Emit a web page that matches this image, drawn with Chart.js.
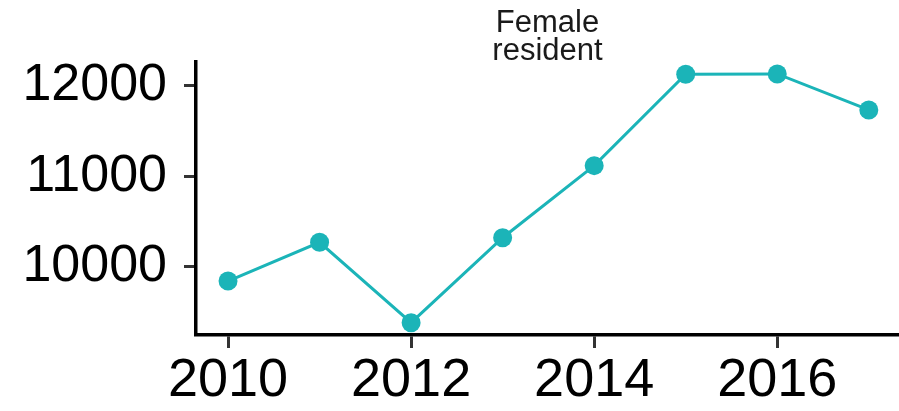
<!DOCTYPE html>
<html>
<head>
<meta charset="utf-8">
<script src="https://cdn.jsdelivr.net/npm/chart.js@4"></script>
<style>
  html, body { margin: 0; padding: 0; background: #fff; }
  #wrap { width: 899px; height: 411px; }
</style>
</head>
<body>
<div id="wrap"><canvas id="chart" width="899" height="411"></canvas></div>
<script>
// data
const years = [2010, 2011, 2012, 2013, 2014, 2015, 2016, 2017];
const femaleResident = [9843, 10271, 9382, 10322, 11119, 12129, 12133, 11735];
const titleLines = ['Female', 'resident'];
const xTicks = [2010, 2012, 2014, 2016];
const yTicks = [10000, 11000, 12000];

const teal = '#1bb4b8';
const fontFamily = "'Liberation Sans', Arial, Helvetica, sans-serif";

// title centred over the plot area (like a facet strip label)
const stripTitle = {
    id: 'stripTitle',
    afterDraw(chart) {
        const ctx = chart.ctx;
        const area = chart.chartArea;
        const cx = (area.left + area.right) / 2;
        ctx.save();
        ctx.fillStyle = '#1a1a1a';
        ctx.font = '31px ' + fontFamily;
        ctx.textAlign = 'center';
        ctx.textBaseline = 'alphabetic';
        titleLines.forEach((line, i) => {
            ctx.fillText(line, cx, 32 + i * 28);
        });
        ctx.restore();
    }
};

const ctx = document.getElementById('chart').getContext('2d');
new Chart(ctx, {
    type: 'line',
    data: {
        datasets: [{
            label: titleLines.join(' '),
            data: years.map((y, i) => ({ x: y, y: femaleResident[i] })),
            borderColor: teal,
            backgroundColor: teal,
            borderWidth: 3,
            pointRadius: 9.5,
            pointHoverRadius: 9.5,
            pointBorderWidth: 0,
            tension: 0,
            clip: false
        }]
    },
    options: {
        responsive: false,
        animation: false,
        layout: {
            autoPadding: false,
            padding: { top: 62, right: 0, left: 0, bottom: 0 }
        },
        plugins: {
            legend: { display: false },
            title: { display: false },
            tooltip: { enabled: false }
        },
        scales: {
            x: {
                type: 'linear',
                min: 2009.65,
                max: 2017.33,
                afterBuildTicks: (scale) => { scale.ticks = xTicks.map(v => ({ value: v })); },
                afterFit: (scale) => {
                    scale.height = 76;
                    scale.paddingLeft = 0;
                    scale.paddingRight = 0;
                },
                border: { display: true, color: '#000', width: 3.5 },
                grid: {
                    drawOnChartArea: false,
                    drawTicks: true,
                    tickLength: 13,
                    tickColor: '#333',
                    tickWidth: 3
                },
                ticks: {
                    color: '#000',
                    padding: 1,
                    maxRotation: 0,
                    font: { family: fontFamily, size: 54 },
                    callback: (v) => String(v)
                }
            },
            y: {
                min: 9246,
                max: 12265,
                afterBuildTicks: (scale) => { scale.ticks = yTicks.map(v => ({ value: v })); },
                afterFit: (scale) => { scale.width = 196; },
                border: { display: true, color: '#000', width: 3.5 },
                grid: {
                    drawOnChartArea: false,
                    drawTicks: true,
                    tickLength: 12,
                    tickColor: '#333',
                    tickWidth: 3
                },
                ticks: {
                    color: '#000',
                    padding: 17,
                    font: { family: fontFamily, size: 52 },
                    callback: (v) => String(v)
                }
            }
        }
    },
    plugins: [stripTitle]
});
</script>
</body>
</html>
